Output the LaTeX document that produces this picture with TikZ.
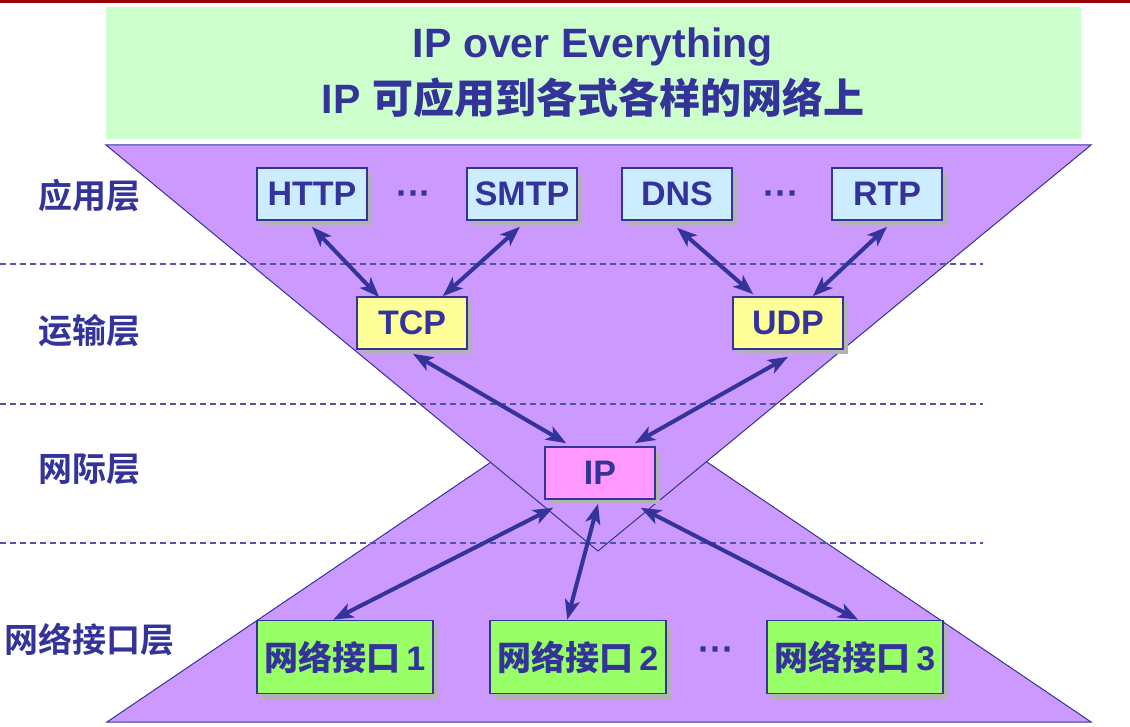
\documentclass[tikz,border=0pt]{standalone}
\usepackage{fontspec}
\setmainfont{Liberation Sans}
\newfontfamily\cjk{Noto Sans CJK SC Bold}
\usetikzlibrary{arrows.meta}
\usetikzlibrary{calc}
\usetikzlibrary{shadows}
\definecolor{mblue}{RGB}{51, 51, 153}
\definecolor{mred}{RGB}{153, 0, 0}
\definecolor{mpurple}{RGB}{204, 153, 255}
\definecolor{mgreen}{RGB}{204, 255, 204}
\definecolor{msky}{RGB}{204, 236, 255}
\definecolor{myellow}{RGB}{255, 255, 153}
\definecolor{mpink}{RGB}{255, 153, 255}
\definecolor{mlime}{RGB}{153, 255, 102}
\definecolor{mshade}{RGB}{178, 178, 178}
\tikzset{box/.style = {draw = mblue, line width = 1.6pt, text = mblue, minimum width = 110pt, minimum height = 52pt, inner sep = 0pt, font = \fontsize{34}{34}\selectfont\bfseries, drop shadow = {shadow xshift = 5pt, shadow yshift = -5pt, fill = mshade, opacity = 1}}}
\tikzset{layer/.style = {text = mblue, font = \fontsize{34}{34}\selectfont\cjk}}
\tikzset{dots/.style = {text = mblue, font = \fontsize{36}{36}\selectfont\bfseries}}
\tikzset{link/.style = {<->, >={Stealth[length = 20pt, width = 15pt, inset = 5pt]}, line width = 4pt, draw = mblue}}
\tikzset{sep/.style = {dash pattern = on 6pt off 4pt, draw = mblue!85, line width = 1.2pt}}

\begin{document}
\begin{tikzpicture}[x = 1pt, y = -1pt]
    \useasboundingbox (0, 0) rectangle (1130, 727);
    \fill [mred] (0, 0) rectangle (1130, 3);
    \fill [mgreen] (106, 7) rectangle (1081, 139);
    \node [text = mblue, font = \fontsize{41}{41}\selectfont\bfseries, anchor = base] (title1) at (593, 58) {IP over Everything};
    \node [text = mblue, font = \fontsize{41}{41}\selectfont\bfseries, anchor = base] (title2) at (593, 114) {IP {\cjk 可应用到各式各样的网络上}};

    \draw [mblue, fill = mpurple, line width = 1pt] (107, 722) -- (599, 389) -- (1091, 722) -- cycle;
    \draw [mblue, fill = mpurple, line width = 1pt] (106, 145) -- (1091, 145) -- (598, 551) -- cycle;

    \draw [sep] (0, 264) -- (983, 264);
    \draw [sep] (0, 404) -- (983, 404);
    \draw [sep] (0, 543) -- (983, 543);

    \node [layer] (lapp) at (89, 196) {应用层};
    \node [layer] (ltrans) at (89, 331) {运输层};
    \node [layer] (linter) at (89, 469) {网际层};
    \node [layer] (llink) at (90, 640) {网络接口层};

    \node [box, fill = msky] (http) at (312, 194) {HTTP};
    \node [box, fill = msky] (smtp) at (522, 194) {SMTP};
    \node [box, fill = msky] (dns) at (677, 194) {DNS};
    \node [box, fill = msky] (rtp) at (887, 194) {RTP};
    \node [dots] (dots1) at (414, 198) {···};
    \node [dots] (dots2) at (781, 198) {···};

    \node [box, fill = myellow] (tcp) at (412, 323) {TCP};
    \node [box, fill = myellow] (udp) at (788, 323) {UDP};
    \node [box, fill = mpink] (ip) at (600, 473) {IP};

    \node [box, fill = mlime, minimum width = 176pt, minimum height = 73pt] (net1) at (345, 657) {{\cjk 网络接口}\,1};
    \node [box, fill = mlime, minimum width = 176pt, minimum height = 73pt] (net2) at (578, 657) {{\cjk 网络接口}\,2};
    \node [box, fill = mlime, minimum width = 176pt, minimum height = 73pt] (net3) at (855, 657) {{\cjk 网络接口}\,3};
    \node [dots] (dots3) at (716, 654) {···};

    \draw [link] ($(http.south) + (0, 6)$) -- ($(tcp.north west) + (23, 1)$);
    \draw [link] ($(smtp.south) + (-2, 6)$) -- ($(tcp.north east) + (-25, 0)$);
    \draw [link] ($(dns.south) + (0, 7)$) -- ($(udp.north west) + (21, -2)$);
    \draw [link] ($(rtp.south) + (0, 6)$) -- ($(udp.north east) + (-31, 0)$);
    \draw [link] ($(tcp.south) + (1, 4)$) -- ($(ip.north west) + (22, -3)$);
    \draw [link] ($(udp.south) + (0, 7)$) -- ($(ip.north east) + (-21, -3)$);
    \draw [link] ($(ip.south west) + (9, 8)$) -- ($(net1.north west) + (77, 0)$);
    \draw [link] ($(ip.south) + (-2, 4)$) -- ($(net2.north west) + (78, 0)$);
    \draw [link] ($(ip.south east) + (-15, 8)$) -- ($(net3.north west) + (92, 0)$);
\end{tikzpicture}
\end{document}
